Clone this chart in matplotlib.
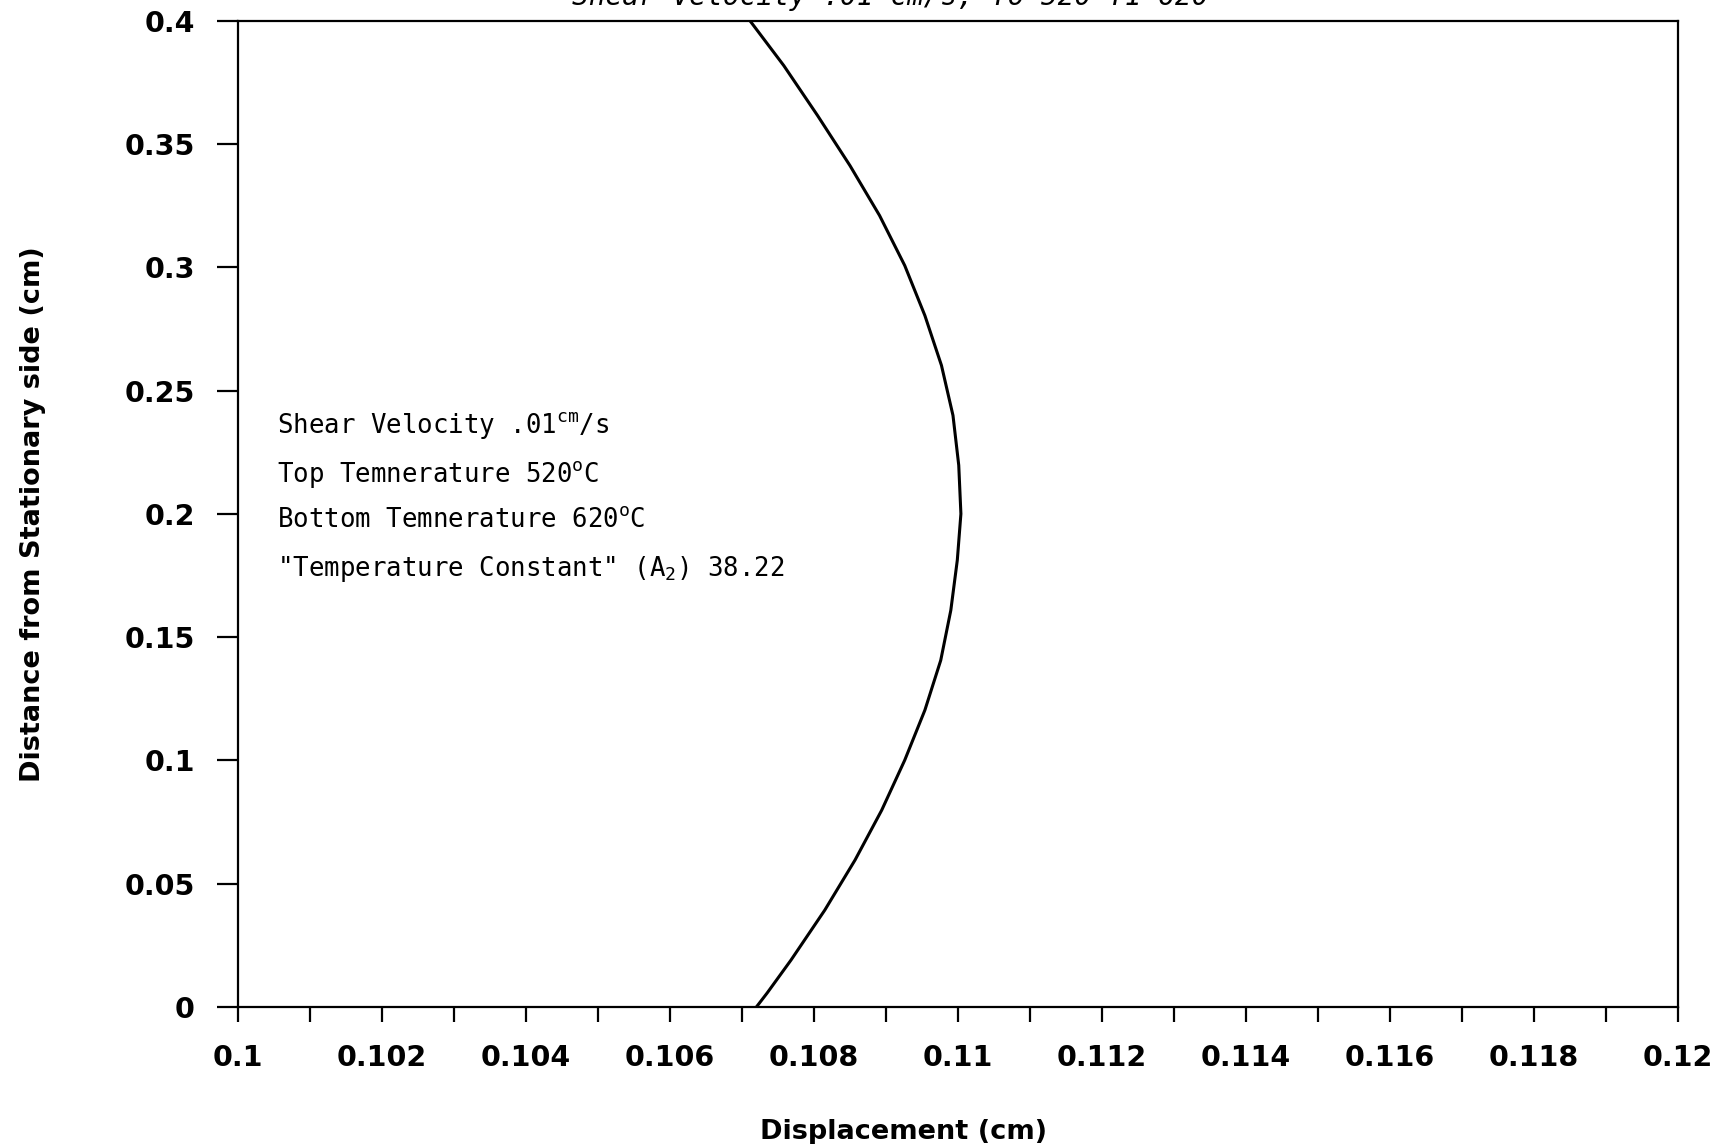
import numpy as np
import matplotlib
matplotlib.use("Agg")
import matplotlib.pyplot as plt

# displacement profile
disp = [0.10711, 0.10758, 0.10805, 0.10850, 0.10891, 0.10926, 0.10954, 0.10977,
        0.10993, 0.11001, 0.11004, 0.10999, 0.10990, 0.10976, 0.10954, 0.10926,
        0.10894, 0.10857, 0.10815, 0.10768, 0.10735, 0.10720]
dist = [0.4000, 0.3818, 0.3615, 0.3412, 0.3210, 0.3007, 0.2804, 0.2602,
        0.2399, 0.2197, 0.2000, 0.1812, 0.1609, 0.1406, 0.1204, 0.1001,
        0.0798, 0.0596, 0.0393, 0.0190, 0.0057, 0.0000]

xticks = [0.1, 0.102, 0.104, 0.106, 0.108, 0.11, 0.112, 0.114, 0.116, 0.118, 0.12]
xtick_labels = ["0.1", "0.102", "0.104", "0.106", "0.108", "0.11",
                "0.112", "0.114", "0.116", "0.118", "0.12"]
yticks = [0, 0.05, 0.1, 0.15, 0.2, 0.25, 0.3, 0.35, 0.4]
ytick_labels = ["0", "0.05", "0.1", "0.15", "0.2", "0.25", "0.3", "0.35", "0.4"]

notes = [r"Shear Velocity .01$^{\mathrm{cm}}$/s",
         r"Top Temnerature 520$^{\mathrm{o}}$C",
         r"Bottom Temnerature 620$^{\mathrm{o}}$C",
         r'"Temperature Constant" (A$_{\mathrm{2}}$) 38.22']
note_y = [0.2358, 0.2161, 0.1973, 0.1776]

plt.rcParams['mathtext.fontset'] = 'custom'
plt.rcParams['mathtext.rm'] = 'DejaVu Sans Mono'
plt.rcParams['mathtext.it'] = 'DejaVu Sans Mono'
plt.rcParams['mathtext.bf'] = 'DejaVu Sans Mono'

fig = plt.figure(figsize=(17.31, 11.44), dpi=100)
ax = fig.add_axes([0.1375, 0.1198, 0.8319, 0.8621])

ax.plot(disp, dist, color='black', lw=2.2)

ax.set_xlim(0.1, 0.12)
ax.set_ylim(0, 0.4)
ax.set_xticks(xticks)
ax.set_xticklabels(xtick_labels)
ax.set_xticks(np.array(xticks[:-1]) + 0.001, minor=True)
ax.set_yticks(yticks)
ax.set_yticklabels(ytick_labels)

for s in ax.spines.values():
    s.set_linewidth(1.6)
ax.tick_params(axis='x', which='both', direction='out', length=11, width=1.6, pad=16)
ax.tick_params(axis='y', direction='out', length=15, width=1.6, pad=16)
for lab in ax.get_xticklabels() + ax.get_yticklabels():
    lab.set_fontfamily('DejaVu Sans')
    lab.set_fontweight('bold')
    lab.set_fontsize(20.5)

ax.set_xlabel("Displacement (cm)", fontsize=19.5, fontweight='bold', va='center')
ax.xaxis.set_label_coords(0.4625, -0.1266)
ax.set_ylabel("Distance from Stationary side (cm)", fontsize=19.5, fontweight='bold', va='center')
ax.yaxis.set_label_coords(-0.1424, 0.5)

for t, yy in zip(notes, note_y):
    ax.text(0.10054, yy, t, family='DejaVu Sans Mono', fontsize=18.5, va='center', ha='left')

fig.text(0.5145, 0.9956, "Shear Velocity .01 cm/s, To 520 T1 620",
         family='DejaVu Sans Mono', style='italic', fontsize=20, ha='center', va='baseline')

fig.savefig("out.png", dpi=100)
